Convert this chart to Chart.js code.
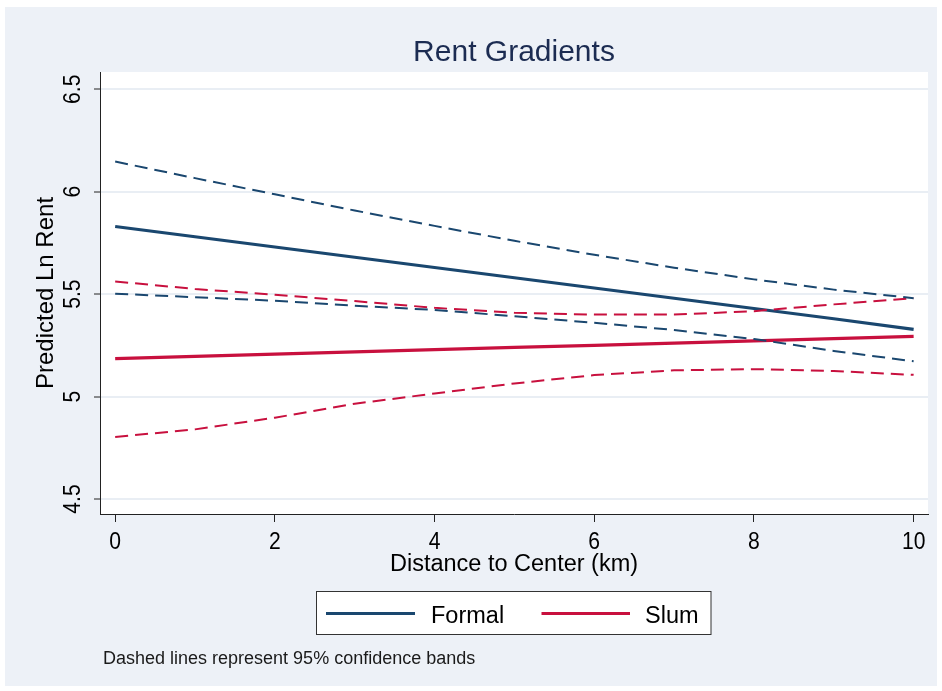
<!DOCTYPE html>
<html>
<head>
<meta charset="utf-8">
<title>Rent Gradients</title>
<script src="https://cdn.jsdelivr.net/npm/chart.js@4/dist/chart.umd.min.js"></script>
<style>
  html, body { margin: 0; padding: 0; background: #ffffff; }
  canvas { display: block; }
</style>
</head>
<body>
<canvas id="rentChart" width="942" height="691"></canvas>
<script>
// Distance from the city center, km
const distanceKm = [0, 1, 2, 3, 4, 5, 6, 7, 8, 9, 10];

// Predicted log rent, formal housing, with 95% band
const formalFit   = [5.830, 5.780, 5.730, 5.680, 5.630, 5.580, 5.530, 5.480, 5.430, 5.380, 5.328];
const formalUpper = [6.147, 6.066, 5.987, 5.908, 5.833, 5.760, 5.692, 5.629, 5.572, 5.522, 5.480];
const formalLower = [5.502, 5.485, 5.468, 5.443, 5.423, 5.392, 5.360, 5.325, 5.281, 5.223, 5.172];

// Predicted log rent, slum housing, with 95% band
const slumFit   = [5.185, 5.196, 5.207, 5.218, 5.229, 5.240, 5.250, 5.261, 5.272, 5.283, 5.294];
const slumUpper = [5.562, 5.525, 5.497, 5.466, 5.433, 5.409, 5.400, 5.400, 5.417, 5.450, 5.480];
const slumLower = [4.803, 4.840, 4.897, 4.965, 5.015, 5.064, 5.105, 5.128, 5.134, 5.125, 5.106];

// Axis ticks
const xTickValues = [0, 2, 4, 6, 8, 10];
const yTickValues = [4.5, 5, 5.5, 6, 6.5];

// Texts
const chartTitle = 'Rent Gradients';
const xAxisTitle = 'Distance to Center (km)';
const yAxisTitle = 'Predicted Ln Rent';
const seriesNames = ['Formal', 'Slum'];
const noteText = 'Dashed lines represent 95% confidence bands';

const NAVY = '#1a476f';
const RED = '#c8103e';
const FONT = '"Liberation Sans", Arial, Helvetica, sans-serif';

function toPoints(values) {
  return distanceKm.map((x, i) => ({ x: x, y: values[i] }));
}

function band(label, values, color) {
  return {
    label: label, data: toPoints(values),
    borderColor: color, borderWidth: 2, borderDash: [13, 7],
    pointRadius: 0, fill: false, tension: 0
  };
}

function fit(label, values, color) {
  return {
    label: label, data: toPoints(values),
    borderColor: color, borderWidth: 3.2,
    pointRadius: 0, fill: false, tension: 0
  };
}

// Narrow tick digits: draw text squeezed horizontally around its anchor
function squeezedText(ctx, text, x, y, sx) {
  ctx.save();
  ctx.translate(x, y);
  ctx.scale(sx, 1);
  ctx.fillText(text, 0, 0);
  ctx.restore();
}

// Background panels, titles, rotated y labels, framed legend and footnote
const frame = {
  id: 'frame',
  beforeDraw(chart) {
    const { ctx, chartArea: a, width, height } = chart;
    ctx.save();
    ctx.fillStyle = '#ffffff';
    ctx.fillRect(0, 0, width, height);
    ctx.fillStyle = '#edf1f7';
    ctx.fillRect(5, 7, width - 10, height - 12);
    ctx.fillStyle = '#ffffff';
    ctx.fillRect(a.left, a.top, a.right - a.left, a.bottom - a.top);
    ctx.restore();
  },
  afterDraw(chart) {
    const { ctx, chartArea: a } = chart;
    const xs = chart.scales.x, ys = chart.scales.y;
    const midX = (a.left + a.right) / 2;
    ctx.save();

    // Title
    ctx.fillStyle = '#1c2c52';
    ctx.font = '30px ' + FONT;
    ctx.textAlign = 'center';
    ctx.textBaseline = 'alphabetic';
    ctx.fillText(chartTitle, midX, 61);

    // X tick labels
    ctx.fillStyle = '#000000';
    ctx.font = '24px ' + FONT;
    xs.ticks.forEach(t => {
      squeezedText(ctx, String(t.value), xs.getPixelForValue(t.value), 549, 0.88);
    });

    // X axis title
    ctx.font = '23.5px ' + FONT;
    ctx.fillText(xAxisTitle, midX, 571);

    // Y tick labels, rotated
    ctx.font = '24px ' + FONT;
    ys.ticks.forEach(t => {
      ctx.save();
      ctx.translate(80, ys.getPixelForValue(t.value));
      ctx.rotate(-Math.PI / 2);
      ctx.textAlign = 'center';
      squeezedText(ctx, String(t.value), 0, 0, 0.88);
      ctx.restore();
    });

    // Y axis title, rotated
    ctx.save();
    ctx.font = '24px ' + FONT;
    ctx.translate(53, (a.top + a.bottom) / 2);
    ctx.rotate(-Math.PI / 2);
    ctx.textAlign = 'center';
    ctx.fillText(yAxisTitle, 0, 0);
    ctx.restore();

    // Legend box
    const lx = 316.5, ly = 591.5, lw = 394.5, lh = 43;
    ctx.fillStyle = '#ffffff';
    ctx.fillRect(lx, ly, lw, lh);
    ctx.strokeStyle = '#333333';
    ctx.lineWidth = 1;
    ctx.strokeRect(lx, ly, lw, lh);
    const keys = [
      { name: seriesNames[0], color: NAVY, x0: 326, x1: 415, tx: 431 },
      { name: seriesNames[1], color: RED, x0: 541.5, x1: 630, tx: 645 }
    ];
    ctx.font = '23.5px ' + FONT;
    ctx.textAlign = 'left';
    keys.forEach(k => {
      ctx.strokeStyle = k.color;
      ctx.lineWidth = 3.2;
      ctx.beginPath();
      ctx.moveTo(k.x0, 613.5);
      ctx.lineTo(k.x1, 613.5);
      ctx.stroke();
      ctx.fillStyle = '#000000';
      ctx.fillText(k.name, k.tx, 623);
    });

    // Footnote
    ctx.fillStyle = '#1a1a1a';
    ctx.font = '18px ' + FONT;
    ctx.fillText(noteText, 103, 664);

    ctx.restore();
  }
};

new Chart(document.getElementById('rentChart'), {
  type: 'line',
  data: {
    datasets: [
      band('Formal upper 95%', formalUpper, NAVY),
      band('Formal lower 95%', formalLower, NAVY),
      band('Slum upper 95%', slumUpper, RED),
      band('Slum lower 95%', slumLower, RED),
      fit(seriesNames[0], formalFit, NAVY),
      fit(seriesNames[1], slumFit, RED)
    ]
  },
  options: {
    responsive: false,
    animation: false,
    devicePixelRatio: 1,
    layout: { padding: { left: 100, top: 72, right: 14, bottom: 177 } },
    plugins: {
      legend: { display: false },
      title: { display: false },
      tooltip: { enabled: false }
    },
    scales: {
      x: {
        type: 'linear',
        min: -0.19, max: 10.18,
        afterBuildTicks: s => { s.ticks = xTickValues.map(v => ({ value: v })); },
        afterFit: s => { s.height = 0; },
        ticks: { display: false },
        grid: { drawOnChartArea: false, drawTicks: true, tickLength: 8, tickColor: '#222222', tickWidth: 1 },
        border: { display: true, color: '#222222', width: 1 }
      },
      y: {
        type: 'linear',
        min: 4.427, max: 6.584,
        afterBuildTicks: s => { s.ticks = yTickValues.map(v => ({ value: v })); },
        afterFit: s => { s.width = 0; },
        ticks: { display: false },
        grid: { color: '#e9eef4', lineWidth: 2, drawTicks: true, tickLength: 6, tickColor: '#222222', tickWidth: 1 },
        border: { display: true, color: '#222222', width: 1 }
      }
    }
  },
  plugins: [frame]
});
</script>
</body>
</html>
